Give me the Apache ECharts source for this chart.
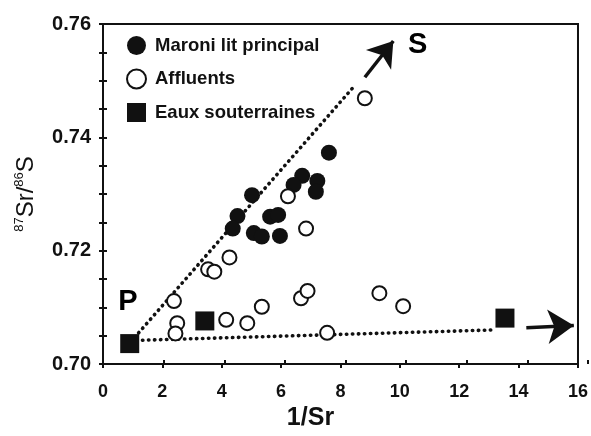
<!DOCTYPE html>
<html><head><meta charset="utf-8">
<script src="https://cdn.jsdelivr.net/npm/echarts@6/dist/echarts.min.js"></script>
<style>html,body{margin:0;padding:0;background:#fff}#c{width:591px;height:436px}</style>
</head><body><div id="c"></div>
<script>
// ---- data ----
const xTicks = [0, 2, 4, 6, 8, 10, 12, 14, 16];
const yTicks = [0.70, 0.72, 0.74, 0.76];
const seriesNames = ['Maroni lit principal', 'Affluents', 'Eaux souterraines'];
const maroni = [
  [7.61, 0.7373], [6.71, 0.7332], [7.22, 0.7323], [7.17, 0.7304], [6.42, 0.7316],
  [5.02, 0.7298], [4.53, 0.7261], [4.37, 0.7239], [5.63, 0.7260], [5.90, 0.7263],
  [5.08, 0.7231], [5.35, 0.7225], [5.96, 0.7226]
];
const affluents = [
  [8.82, 0.7469], [6.23, 0.7296], [6.84, 0.7239], [4.26, 0.7188], [3.54, 0.7167],
  [3.75, 0.7163], [2.39, 0.7111], [2.50, 0.7072], [2.44, 0.7054], [4.15, 0.7078],
  [4.86, 0.7072], [5.35, 0.7101], [6.67, 0.7116], [6.89, 0.7129], [7.55, 0.7055],
  [9.31, 0.7125], [10.11, 0.7102]
];
const eaux = [[0.90, 0.7036], [3.43, 0.7076], [13.54, 0.7081]];
const trendPS = [[1.2, 0.7055], [8.49, 0.7492]];
const trendPH = [[1.33, 0.7042], [13.1, 0.7060]];
const arrowS = [[8.82, 0.7506], [9.78, 0.7570]];
const arrowH = [[14.26, 0.7064], [15.86, 0.7068]];
const endLabels = [{ name: 'P', value: [0.84, 0.7110] }, { name: 'S', value: [10.6, 0.7563] }];

// ---- chart ----
const FONT = 'Liberation Sans, Arial, sans-serif';
const INK = '#111';
const chart = echarts.init(document.getElementById('c'), null, { renderer: 'canvas' });
const gridBox = { left: 103, right: 3, top: 24, bottom: 72 };
const xBase = { min: xTicks[0], max: xTicks[xTicks.length - 1], interval: 2, type: 'value', splitLine: { show: false } };
const yBase = { min: yTicks[0], max: yTicks[yTicks.length - 1], interval: 0.02, type: 'value', splitLine: { show: false } };

function arrowSeries(pts, size) {
  return {
    type: 'line', data: [], silent: true,
    markLine: {
      silent: true, animation: false,
      symbol: ['none', 'arrow'], symbolSize: size,
      label: { show: false },
      lineStyle: { color: INK, width: 3.5, type: 'solid' },
      data: [[{ coord: pts[0] }, { coord: pts[1] }]]
    }
  };
}
function dottedSeries(pts) {
  return {
    type: 'line', data: pts, showSymbol: false, symbol: 'none', silent: true, z: 1,
    lineStyle: { color: INK, width: 3.6, type: [0.4, 5.6], cap: 'round' }
  };
}

chart.setOption({
  animation: false,
  backgroundColor: '#fff',
  grid: [
    Object.assign({ show: true, borderColor: INK, borderWidth: 2, backgroundColor: 'transparent' }, gridBox),
    Object.assign({ show: false }, gridBox)
  ],
  legend: {
    data: seriesNames, orient: 'vertical', left: 126, top: 36, padding: 0,
    itemWidth: 19, itemHeight: 19, itemGap: 13.5,
    textStyle: { fontFamily: FONT, fontWeight: 'bold', fontSize: 18.5, color: INK, padding: [0, 0, 0, 4] }
  },
  xAxis: [
    Object.assign({}, xBase, {
      gridIndex: 0,
      name: '1/Sr', nameLocation: 'middle', nameGap: 42,
      nameTextStyle: { fontFamily: FONT, fontWeight: 'bold', fontSize: 25, color: INK, padding: [0, 60, 0, 0] },
      axisLine: { lineStyle: { color: INK, width: 2 } },
      axisTick: { length: 4, lineStyle: { color: INK, width: 2 } },
      axisLabel: { margin: 19, fontFamily: FONT, fontWeight: 'bold', fontSize: 18, color: INK }
    }),
    Object.assign({}, xBase, {
      gridIndex: 1,
      axisLine: { show: false },
      axisTick: { inside: true, length: 4, lineStyle: { color: INK, width: 2 } },
      axisLabel: { show: false }
    })
  ],
  yAxis: [
    Object.assign({}, yBase, {
      gridIndex: 0,
      name: '{sup|87}{main|Sr/}{sup|86}{main|S}', nameLocation: 'middle', nameRotate: 90, nameGap: 64,
      nameTextStyle: {
        color: INK,
        rich: {
          sup: { fontFamily: FONT, fontSize: 13, verticalAlign: 'top', color: INK, lineHeight: 26 },
          main: { fontFamily: FONT, fontSize: 24, color: INK, lineHeight: 26 }
        }
      },
      axisLine: { lineStyle: { color: INK, width: 2 } },
      axisTick: { length: 4, lineStyle: { color: INK, width: 2 } },
      minorTick: { show: true, splitNumber: 4, length: 4, lineStyle: { color: INK, width: 2 } },
      axisLabel: { margin: 12, fontFamily: FONT, fontWeight: 'bold', fontSize: 20, color: INK,
        formatter: v => v.toFixed(2) }
    }),
    Object.assign({}, yBase, {
      gridIndex: 1,
      axisLine: { show: false },
      axisTick: { inside: true, length: 4, lineStyle: { color: INK, width: 2 } },
      minorTick: { show: true, splitNumber: 4, length: 4, lineStyle: { color: INK, width: 2 } },
      axisLabel: { show: false }
    })
  ],
  series: [
    dottedSeries(trendPS),
    dottedSeries(trendPH),
    arrowSeries(arrowS, 24),
    arrowSeries(arrowH, 26),
    {
      name: seriesNames[0], type: 'scatter', data: maroni, symbol: 'circle', symbolSize: 16, z: 3,
      itemStyle: { color: INK, opacity: 1 }
    },
    {
      name: seriesNames[1], type: 'scatter', data: affluents, symbol: 'circle', symbolSize: 14, z: 4,
      itemStyle: { color: '#fff', borderColor: INK, borderWidth: 2, opacity: 1 }
    },
    {
      name: seriesNames[2], type: 'scatter', data: eaux, symbol: 'rect', symbolSize: 19, z: 5,
      itemStyle: { color: INK, opacity: 1 }
    },
    {
      type: 'scatter', data: endLabels, symbolSize: 0, silent: true, z: 6,
      itemStyle: { color: INK, opacity: 1 },
      label: { show: true, position: 'inside', formatter: '{b}', fontFamily: FONT, fontWeight: 'bold', fontSize: 29, color: '#000', opacity: 1 }
    }
  ]
});
</script>
</body></html>
